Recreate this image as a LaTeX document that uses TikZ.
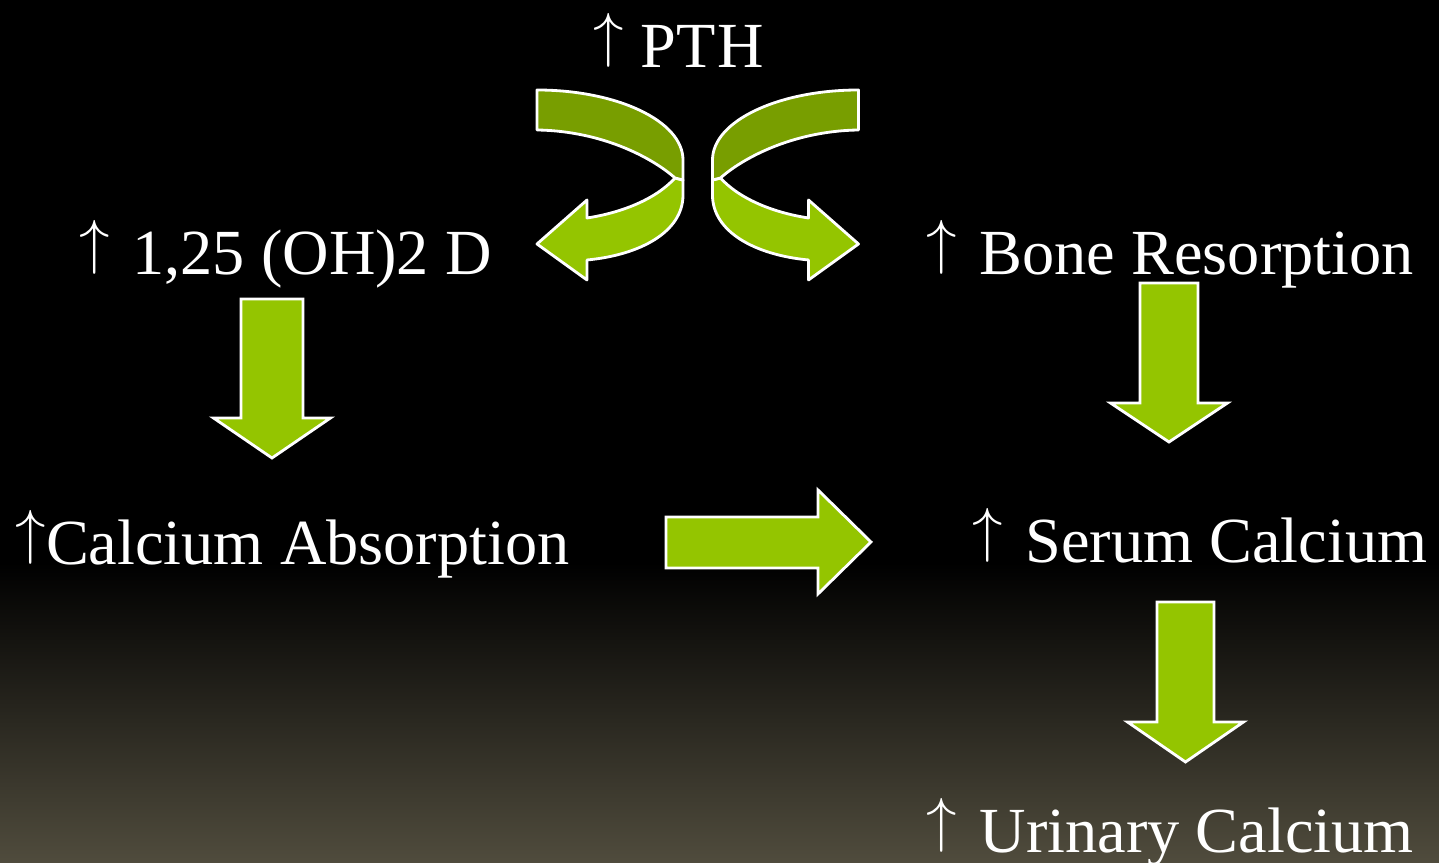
\documentclass[tikz,border=0pt]{standalone}
\usepackage{fontspec}
\setmainfont{Liberation Serif}
\usepackage{tikz}
\usetikzlibrary{positioning,calc}
\definecolor{limegreen}{RGB}{148,197,0}
\definecolor{olivegreen}{RGB}{120,158,0}
\definecolor{bottomolive}{RGB}{80,76,61}
\newcommand{\up}{\raisebox{0.19em}{$\uparrow$}}

% one half of the PTH ribbon (left half, mirrored for the right one)
\newcommand{\pthturn}{%
    \filldraw[ribbon, fill=limegreen] (6.75,6.85) -- (6.83,6.83) -- (6.83,6.68) .. controls (6.83,6.31) and (6.40,6.08) .. (5.87,6.03) -- (5.87,5.83) -- (5.37,6.19) -- (5.87,6.63) -- (5.87,6.45) .. controls (6.20,6.50) and (6.55,6.63) .. (6.75,6.85) -- cycle;
    \filldraw[ribbon, fill=olivegreen] (5.37,7.73) .. controls (6.17,7.73) and (6.83,7.42) .. (6.83,7.03) -- (6.83,6.83) -- (6.75,6.85) .. controls (6.55,7.03) and (6.05,7.32) .. (5.37,7.33) -- cycle;
}

\begin{document}
\begin{tikzpicture}[
        label/.style={inner sep=0pt, anchor=base west, text=white, font=\fontsize{18.3}{22}\selectfont},
        ribbon/.style={draw=white, line width=0.8pt, line join=round},
        block/.style={draw=white, fill=limegreen, line width=0.8pt, line join=miter}
    ]
    % background
    \useasboundingbox (0,0) rectangle (14.39,8.63);
    \fill[black] (0,0) rectangle (14.39,8.63);
    \shade[top color=black, bottom color=bottomolive] (0,0) rectangle (14.39,3.0);

    % texts
    \node[label] (pth) at (5.93,7.95) {\up{} P\kern0.3pt T\kern0.3pt H};
    \node[label] (vitd) at (0.79,5.88) {\up\kern0.1em\ 1,25 (OH)2 D};
    \node[label] (bone) at (9.26,5.88) {\up\kern0.1em\ Bone Resorption};
    \node[label] (absorb) at (0.15,2.98) {\up{}Calcium Absorption};
    \node[label] (serum) at (9.72,3.00) {\up\kern0.1em\ Serum Calcium};
    \node[label] (urine) at (9.26,0.10) {\up\kern0.1em\ Urinary Calcium};

    % curved ribbon arrows under PTH
    \pthturn
    \begin{scope}[xshift=13.955cm, xscale=-1]
        \pthturn
    \end{scope}

    % block arrows
    \draw[block] (2.41,5.64) -- (3.03,5.64) -- (3.03,4.45) -- (3.305,4.45) -- (2.72,4.05) -- (2.135,4.45) -- (2.41,4.45) -- cycle;
    \draw[block] (11.40,5.80) -- (11.98,5.80) -- (11.98,4.60) -- (12.275,4.60) -- (11.69,4.21) -- (11.105,4.60) -- (11.40,4.60) -- cycle;
    \draw[block] (11.57,2.61) -- (12.14,2.61) -- (12.14,1.41) -- (12.435,1.41) -- (11.855,1.01) -- (11.275,1.41) -- (11.57,1.41) -- cycle;
    \draw[block] (6.66,3.46) -- (8.18,3.46) -- (8.18,3.73) -- (8.71,3.21) -- (8.18,2.69) -- (8.18,2.95) -- (6.66,2.95) -- cycle;
\end{tikzpicture}
\end{document}
